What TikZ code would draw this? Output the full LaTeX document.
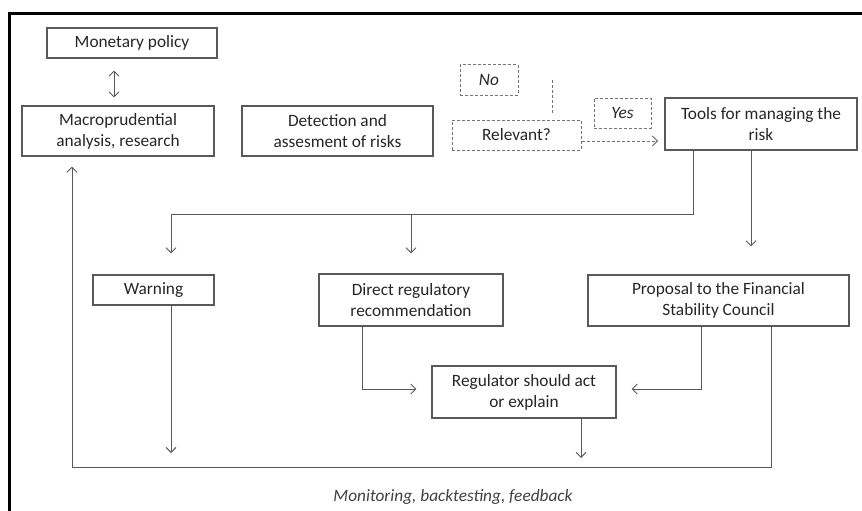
\documentclass[tikz,border=0pt]{standalone}
\usepackage{fontspec}
\setmainfont{Carlito}
\usetikzlibrary{arrows.meta}
\begin{document}
\begin{tikzpicture}[x=1pt,y=-1pt,
  >={Straight Barb[length=5pt,width=10pt]},
  every node/.style={font=\fontsize{17.3}{21}\selectfont, text=black!85},
  box/.style={draw=black!65, line width=1.1pt, rectangle, inner sep=0pt, align=center},
  dbox/.style={draw=black!55, line width=1pt, dash pattern=on 3pt off 2pt, rectangle, inner sep=0pt, align=center},
  conn/.style={draw=black!65, line width=1pt},
  dconn/.style={draw=black!55, line width=1pt, dash pattern=on 3pt off 2pt},
  frame/.style={draw=black, line width=3pt}]
\useasboundingbox (0,0) rectangle (862,511);
% outer frame (top and left edges visible)
\coordinate (fa) at (9,511);
\coordinate (fb) at (9,13.5);
\coordinate (fc) at (862,13.5);
\draw[frame] (fa) -- (fb) -- (fc);

\node[box, minimum width=170pt, minimum height=30pt] (mon) at (132,43) {Monetary policy};
\node[box, minimum width=192pt, minimum height=50pt] (mac) at (118,131) {Macroprudential\\analysis, research};
\node[box, minimum width=191pt, minimum height=50pt] (det) at (337.5,131) {Detection and\\assesment of risks};
\node[dbox, minimum width=58pt, minimum height=30pt] (no) at (489,80) {\itshape No};
\node[dbox, minimum width=129pt, minimum height=30pt] (rel) at (516.5,135) {Relevant?};
\node[dbox, minimum width=57pt, minimum height=30pt] (yes) at (622.5,113) {\itshape Yes};
\node[box, minimum width=192pt, minimum height=52pt] (tools) at (761,124) {Tools for managing the\\risk};
\node[box, minimum width=121pt, minimum height=30pt] (warn) at (153.5,290) {Warning};
\node[box, minimum width=184pt, minimum height=52pt] (dir) at (411,300) {Direct regulatory\\recommendation};
\node[box, minimum width=261pt, minimum height=51pt] (prop) at (718.5,300.5) {Proposal to the Financial\\Stability Council};
\node[box, minimum width=184pt, minimum height=52pt] (reg) at (524,392) {Regulator should act\\or explain};
\node[font=\fontsize{17.3}{21}\selectfont\itshape, text=black!75] (cap) at (453,497) {Monitoring, backtesting, feedback};

% monetary <-> macro
\coordinate (m1) at ([xshift=-18pt,yshift=-12pt]mon.south);
\coordinate (m2) at ([xshift=-4pt,yshift=8pt]mac.north);
\draw[conn,<->] (m1) -- (m2);

% dashed line above Relevant
\coordinate (r1) at ([xshift=35.5pt,yshift=7pt]rel.north);
\coordinate (r2) at ([xshift=35.5pt,yshift=41pt]rel.north);
\draw[dconn] (r1) -- (r2);

% Relevant -> Tools (dashed)
\coordinate (r3) at ([yshift=-6pt]rel.east);
\coordinate (t0) at (658,141);
\draw[dconn,->] (r3) -- (t0);

% Tools -> Warning / Direct
\coordinate (t1) at ([xshift=-68pt]tools.south);
\coordinate (w0) at ([xshift=17.5pt,yshift=21pt]warn.north);
\coordinate (d0) at ([yshift=20pt]dir.north);
\draw[conn,->] (t1) |- (171,214) -- (w0);
\draw[conn,->] (411,214) -- (d0);

% Tools -> Proposal
\coordinate (t2) at ([xshift=-10pt]tools.south);
\coordinate (p0) at ([xshift=32.5pt,yshift=28pt]prop.north);
\draw[conn,->] (t2) -- (p0);

% Direct -> Regulator
\coordinate (d1) at ([xshift=-49pt]dir.south);
\coordinate (g1) at ([xshift=-15pt,yshift=3pt]reg.west);
\draw[conn,->] (d1) |- (g1);

% Proposal -> Regulator
\coordinate (p1) at ([xshift=-17.5pt]prop.south);
\coordinate (g2) at ([xshift=15pt,yshift=3pt]reg.east);
\draw[conn,->] (p1) |- (g2);

% Proposal -> Macro (feedback loop)
\coordinate (p2) at ([xshift=52.5pt]prop.south);
\coordinate (b1) at (771,467);
\coordinate (b2) at (72,467);
\coordinate (a0) at ([xshift=-46pt,yshift=-10pt]mac.south);
\draw[conn,->] (p2) -- (b1) -- (b2) -- (a0);

% Warning down
\coordinate (w1) at ([xshift=17.5pt]warn.south);
\coordinate (w2) at (171,453);
\draw[conn,->] (w1) -- (w2);

% Regulator down
\coordinate (g3) at ([xshift=57pt]reg.south);
\coordinate (g4) at (581,458);
\draw[conn,->] (g3) -- (g4);
\end{tikzpicture}
\end{document}
